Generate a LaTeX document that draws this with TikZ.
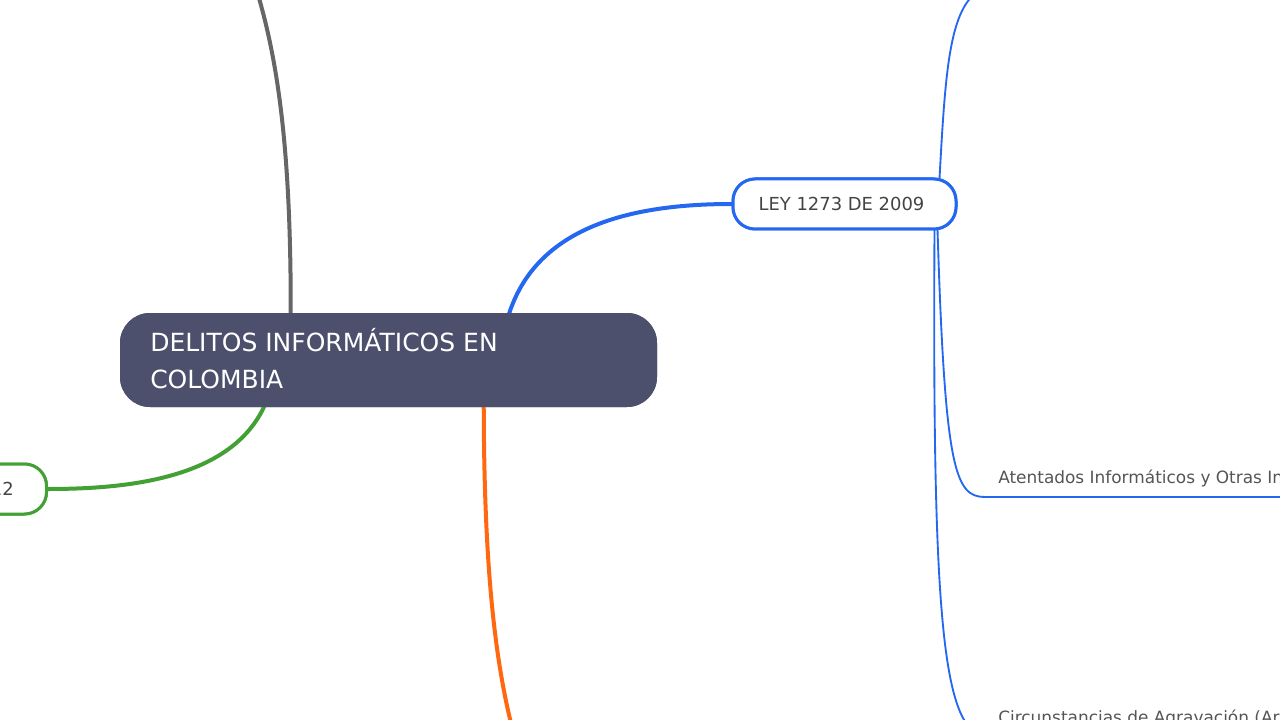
\documentclass[tikz,border=0pt]{standalone}
\usepackage{fontspec}
\setmainfont{DejaVu Sans}
\usetikzlibrary{calc}
\definecolor{cnode}{RGB}{76,80,108}
\definecolor{cgray}{RGB}{102,102,102}
\definecolor{cblue}{RGB}{36,104,242}
\definecolor{cgreen}{RGB}{67,160,52}
\definecolor{corange}{RGB}{255,104,16}
\definecolor{ctext}{RGB}{68,68,68}
\definecolor{ctextb}{RGB}{85,85,85}
\tikzset{
  centralbox/.style={fill=cnode, draw=none, rounded corners=22.5pt, minimum width=402.75pt, minimum height=70.5pt, inner sep=0pt},
  centraltext/.style={anchor=base west, inner sep=0pt, text=white, font=\fontsize{18.75}{22}\selectfont},
  topicbox/.style={draw=#1, fill=white, line width=2.25pt, rounded corners=16.5pt, minimum width=167.25pt, minimum height=37.5pt, inner sep=0pt},
  topictext/.style={inner sep=0pt, text=ctext, font=\fontsize{13.45}{16}\selectfont},
  subtext/.style={anchor=base west, inner sep=0pt, text=ctextb, font=\fontsize{12.7}{15}\selectfont},
  thick branch/.style={draw=#1, line width=3pt, line cap=round},
  thin branch/.style={draw=cblue, line width=1.4pt},
}
\begin{document}
\begin{tikzpicture}[x=0.75pt,y=-0.75pt]
\useasboundingbox (0,0) rectangle (1280,720);
\begin{scope}
\clip (0,0) rectangle (1280,720);
% free ends of connectors
\coordinate (grayend) at (256,-12);
\coordinate (orangeend) at (514,735);
\coordinate (upend) at (990,-14);
\coordinate (atline) at (985,497);
\coordinate (atend) at (1300,497);
\coordinate (circend) at (992,738);

\node[centralbox] (c) at (388.5,360) {};
\node[topicbox=cblue] (ley) at (844.5,204) {};
\node[topicbox=cgreen] (g) at (-65,489) {};

\draw[thick branch=cgray] ($(c.north west)+(171,2)$) .. controls (291,150) and (278,60) .. (grayend);
\draw[thick branch=cblue] ($(c.north west)+(389,2)$) .. controls (535,232) and (620,204) .. (ley.west);
\draw[thick branch=cgreen] ($(c.south west)+(145,-2)$) .. controls (232,478) and (130,489) .. (g.east);
\draw[thick branch=corange] ($(c.south west)+(364,-2)$) .. controls (484,560) and (494,660) .. (orangeend);

\draw[thin branch] ($(ley.north east)+(-18,1)$) .. controls (946,60) and (950,-4) .. (upend);
\draw[thin branch] ($(ley.south east)+(-20,-1)$) .. controls (945,470) and (955,497) .. (atline) -- (atend);
\draw[thin branch] ($(ley.south east)+(-23,-1)$) .. controls (932,650) and (945,738) .. (circend);

% redraw boxes over connector ends
\node[centralbox] at (c.center) {};
\node[topicbox=cblue] at (ley.center) {};
\node[topicbox=cgreen] at (g.center) {};

\node[centraltext] (t1) at (150,351) {DELITOS INFORMÁTICOS EN};
\node[centraltext] (t2) at (150,388) {COLOMBIA};
\node[topictext] (leyt) at (841.5,204) {LEY 1273 DE 2009};
\node[topictext, anchor=base east] (gt) at (14,495) {LEY 1581 DE 2012};
\node[subtext] (at) at (998,483) {Atentados Informáticos y Otras Infracciones};
\node[subtext] (ci) at (998,723) {Circunstancias de Agravación (Art. 269H)};
\end{scope}
\end{tikzpicture}
\end{document}
